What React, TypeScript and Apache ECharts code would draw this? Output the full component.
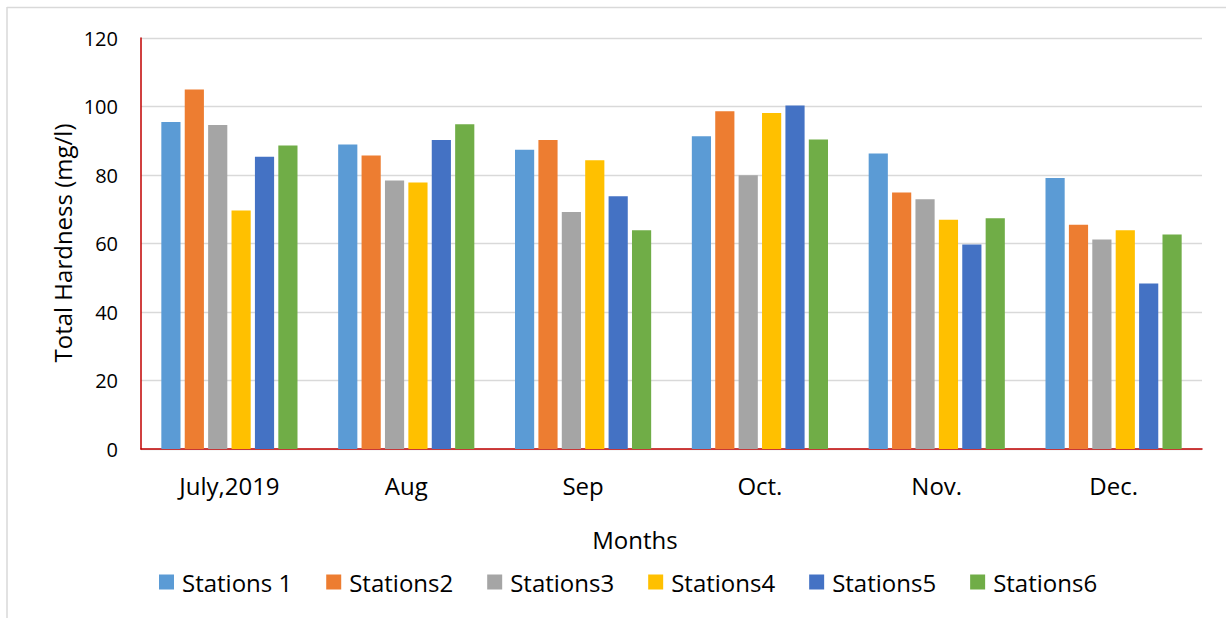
import React, { useEffect, useRef } from "react";
import * as echarts from "echarts";

const months = ["July,2019", "Aug", "Sep", "Oct.", "Nov.", "Dec."];
const stationNames = ["Stations 1", "Stations2", "Stations3", "Stations4", "Stations5", "Stations6"];
const station1 = [95.5, 88.9, 87.4, 91.3, 86.3, 79.1];
const station2 = [105.0, 85.7, 90.2, 98.6, 74.9, 65.5];
const station3 = [94.6, 78.4, 69.2, 79.9, 72.9, 61.2];
const station4 = [69.6, 77.8, 84.3, 98.1, 66.9, 63.9];
const station5 = [85.3, 90.2, 73.8, 100.3, 59.7, 48.3];
const station6 = [88.6, 94.8, 63.9, 90.4, 67.4, 62.6];
const yTicks = { min: 0, max: 120, interval: 20 };

const colors = ["#5B9BD5", "#ED7D31", "#A5A5A5", "#FFC000", "#4472C4", "#70AD47"];
const FONT = "'Open Sans', 'Noto Sans', sans-serif";

export default function App() {
  const ref = useRef<HTMLDivElement>(null);
  useEffect(() => {
    if (!ref.current) return;
    const chart = echarts.init(ref.current, undefined, { renderer: "svg" });
    const all = [station1, station2, station3, station4, station5, station6];
    chart.setOption({
      animation: false,
      backgroundColor: "#ffffff",
      color: colors,
      textStyle: { fontFamily: FONT },
      grid: { left: 141, right: 24, top: 38, bottom: 169 },
      legend: {
        data: stationNames,
        left: 154,
        top: 565,
        icon: "rect",
        itemWidth: 15,
        itemHeight: 15,
        itemGap: 34,
        textStyle: { fontFamily: FONT, fontSize: 24, color: "#000", padding: [0, 0, 0, 3] },
      },
      xAxis: {
        type: "category",
        data: months,
        axisLine: { lineStyle: { color: "#C00000", width: 1.5 } },
        axisTick: { show: false },
        axisLabel: { fontFamily: FONT, fontSize: 24, color: "#000", margin: 24 },
      },
      yAxis: {
        type: "value",
        min: yTicks.min,
        max: yTicks.max,
        interval: yTicks.interval,
        axisLine: { show: true, lineStyle: { color: "#C00000", width: 1.5 } },
        axisTick: { show: false },
        splitLine: { lineStyle: { color: "#D9D9D9", width: 1.3 } },
        axisLabel: { fontFamily: FONT, fontSize: 20, color: "#000", margin: 23 },
      },
      series: all.map((d, i) => ({
        name: stationNames[i],
        type: "bar",
        data: d,
        barGap: "22%",
        barCategoryGap: "23%",
        itemStyle: { color: colors[i] },
      })),
      graphic: [
        { type: "line", shape: { x1: 7, y1: 7.5, x2: 1226, y2: 7.5 }, style: { stroke: "#D9D9D9", lineWidth: 1.5 } },
        { type: "line", shape: { x1: 7, y1: 7, x2: 7, y2: 618 }, style: { stroke: "#D9D9D9", lineWidth: 1.5 } },
        {
          type: "text",
          x: 62,
          y: 243,
          rotation: Math.PI / 2,
          style: {
            text: "Total Hardness (mg/l)",
            fontFamily: FONT,
            fontSize: 24,
            fill: "#000",
            align: "center",
            verticalAlign: "middle",
          },
        },
        {
          type: "text",
          x: 635,
          y: 539,
          style: {
            text: "Months",
            fontFamily: FONT,
            fontSize: 24,
            fill: "#000",
            align: "center",
            verticalAlign: "middle",
          },
        },
      ],
    });
    return () => chart.dispose();
  }, []);
  return (
    <div
      ref={ref}
      style={{ position: "fixed", left: 0, top: 0, width: 1226, height: 618, background: "#fff" }}
    />
  );
}
